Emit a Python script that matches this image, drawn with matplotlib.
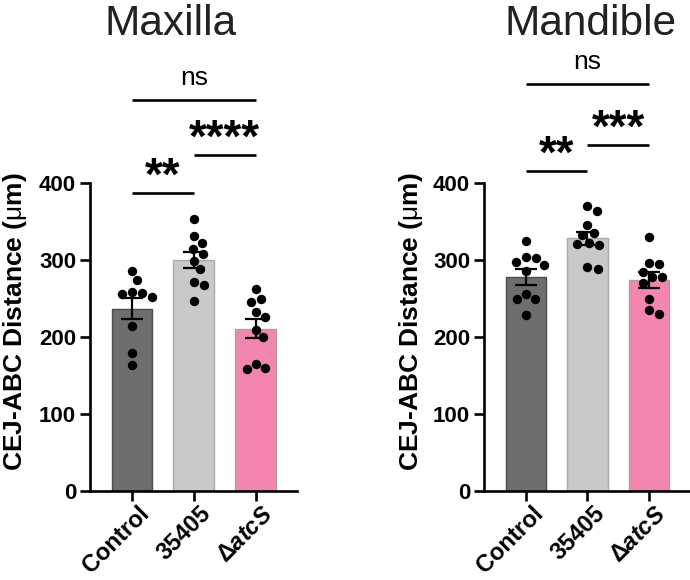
import numpy as np
import matplotlib
matplotlib.use('Agg')
import matplotlib.pyplot as plt
import matplotlib.transforms as mtransforms

plt.rcParams['font.family'] = ['Liberation Sans', 'DejaVu Sans']
plt.rcParams['mathtext.fontset'] = 'custom'
plt.rcParams['mathtext.rm'] = 'Liberation Sans'
plt.rcParams['mathtext.it'] = 'Liberation Sans:italic'
plt.rcParams['mathtext.bf'] = 'Liberation Sans:bold'
plt.rcParams['mathtext.bfit'] = 'Liberation Sans:bold:italic'

groups = ['Control', '35405', 'Δ$\\mathbfit{atcS}$']

# Maxilla: individual animals, bar means and SEM
maxilla_points = [
    [286, 274, 259, 252, 257, 256, 214, 179, 164],
    [353, 331, 322, 314, 308, 299, 288, 272, 268, 247],
    [262, 250, 246, 232, 226, 209, 200, 158, 165, 160],
]
maxilla_mean = [237, 300, 211]
maxilla_sem = [14, 10.5, 12.3]

# Mandible
mandible_points = [
    [325, 298, 303, 304, 294, 286, 256, 249, 250, 228],
    [364, 370, 345, 335, 333, 322, 321, 320, 288, 291],
    [330, 295, 296, 278, 285, 278, 270, 250, 235, 230],
]
mandible_mean = [278, 328, 274]
mandible_sem = [10, 8.3, 10]

# comparisons: (group a, group b, label, bracket height)
maxilla_sig = [(0, 1, '**', 387), (1, 2, '****', 436), (0, 2, 'ns', 508)]
mandible_sig = [(0, 1, '**', 416), (1, 2, '***', 449), (0, 2, 'ns', 529)]

bar_colors = ['#6d6e6d', '#c9c9c9', '#f286ae']
edge_colors = ['#4d4d4d', '#aaaaaa', '#a5a5a5']


def swarm_offsets(ax, x0, values, diam=10.5):
    """simple beeswarm in pixel space, returns x offsets in data units"""
    pts = ax.transData.transform(np.column_stack([np.full(len(values), x0), values]))
    px_per_x = ax.transData.transform((1, 0))[0] - ax.transData.transform((0, 0))[0]
    offs = np.zeros(len(values))
    placed = []
    for i in np.argsort(values)[::-1]:
        py = pts[i][1]
        cands = [0.0]
        for (ox, oy) in placed:
            dy = py - oy
            if abs(dy) < diam:
                d = np.sqrt(diam ** 2 - dy ** 2)
                cands += [ox + d, ox - d]
        cands.sort(key=abs)
        for c in cands:
            if all((c - ox) ** 2 + (py - oy) ** 2 >= diam ** 2 - 1e-6 for ox, oy in placed):
                break
        placed.append((c, py))
        offs[i] = c / px_per_x
    return offs


def draw_panel(ax, means, sems, points, sig, label_x):
    x = np.arange(len(groups))
    ax.set_xlim(-0.68, 2.67)
    ax.set_ylim(0, 400)
    ax.bar(x, means, width=0.66, color=bar_colors, edgecolor=edge_colors,
           linewidth=1, zorder=1)
    ax.errorbar(x, means, yerr=sems, fmt='none', ecolor='black',
                elinewidth=1.6, capsize=8, capthick=1.6, zorder=4)
    for i, vals in enumerate(points):
        offs = swarm_offsets(ax, x[i], vals)
        ax.scatter(x[i] + offs, vals, s=46, color='black', zorder=3,
                   linewidths=0)

    for a, b, lab, h in sig:
        ax.plot([a, b], [h, h], color='black', lw=1.9, clip_on=False,
                solid_capstyle='butt')
        if lab == 'ns':
            ax.text((a + b) / 2, h + 19, lab, ha='center', va='baseline',
                    fontsize=19, clip_on=False)
        else:
            ax.text((a + b) / 2, h + 4, lab, ha='center', va='baseline',
                    fontsize=33, fontweight='bold', clip_on=False)

    for s in ['top', 'right']:
        ax.spines[s].set_visible(False)
    for s in ['left', 'bottom']:
        ax.spines[s].set_linewidth(1.9)
    ax.set_yticks([0, 100, 200, 300, 400])
    ax.tick_params(width=1.9, length=7, labelsize=16, pad=3)
    ax.tick_params(axis='x', pad=1)
    for t in ax.get_yticklabels():
        t.set_fontweight('bold')
    ax.set_xticks(x)
    ax.set_xticklabels(groups, rotation=45, ha='right', va='top',
                       rotation_mode='anchor', fontweight='bold', fontsize=17)
    shift = mtransforms.ScaledTranslation(4 / 72, 0, ax.figure.dpi_scale_trans)
    for t in ax.get_xticklabels():
        t.set_transform(t.get_transform() + shift)
    ax.set_ylabel('CEJ-ABC Distance ($\\mathrm{\\mu}$m)', fontsize=19,
                  fontweight='bold')
    ax.yaxis.set_label_coords(label_x, 0.55)


fig = plt.figure(figsize=(6.9, 5.8), dpi=100)
ax1 = fig.add_axes([90 / 690, 89 / 580, 207 / 690, 308 / 580])
ax2 = fig.add_axes([484 / 690, 89 / 580, 206 / 690, 308 / 580])

draw_panel(ax1, maxilla_mean, maxilla_sem, maxilla_points, maxilla_sig, -0.295)
draw_panel(ax2, mandible_mean, mandible_sem, mandible_points, mandible_sig, -0.286)

fig.text(171 / 690, 1 - 35 / 580, 'Maxilla', fontsize=30.5, ha='center',
         va='baseline', color='#222222')
fig.text(591 / 690, 1 - 35 / 580, 'Mandible', fontsize=30.5, ha='center',
         va='baseline', color='#222222')

fig.savefig('out.png', dpi=100)
